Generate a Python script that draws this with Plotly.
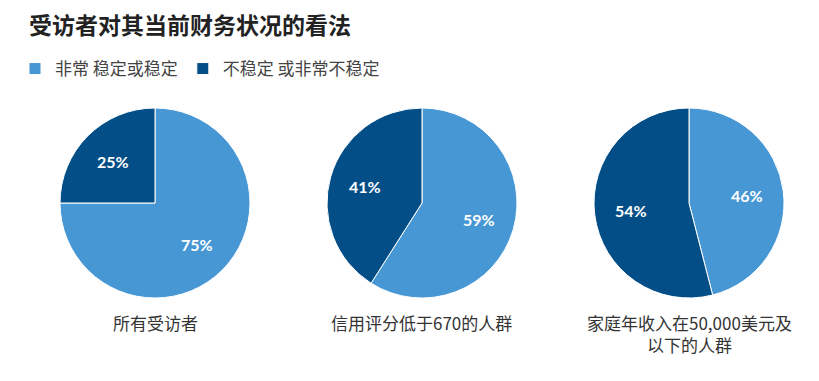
import math
import plotly.graph_objects as go

title = "受访者对其当前财务状况的看法"
categories = ["非常 稳定或稳定", "不稳定 或非常不稳定"]
groups = ["所有受访者", "信用评分低于670的人群", "家庭年收入在50,000美元及<br>以下的人群"]
stable = [75, 59, 46]
unstable = [25, 41, 54]

colors = ["#4897D5", "#034E86"]
OFF = 8  # default page body margin
W, H = 819 - OFF, 381 - OFF
centers_x = [155 - OFF, 422 - OFF, 689 - OFF]
cy = 203 - OFF
R = 95
LABEL_R = 0.62 * R

fig = go.Figure()
for i, g in enumerate(groups):
    cx = centers_x[i]
    vals = [stable[i], unstable[i]]
    fig.add_trace(go.Pie(
        labels=categories,
        values=vals,
        sort=False,
        direction="clockwise",
        rotation=0,
        marker=dict(colors=colors, line=dict(color="#ffffff", width=1)),
        textinfo="none",
        hoverinfo="label+percent",
        domain=dict(x=[(cx - R) / W, (cx + R) / W],
                    y=[1 - (cy + R) / H, 1 - (cy - R) / H]),
        showlegend=(i == 0),
    ))
    # percentage labels placed at each slice's mid-angle
    total = sum(vals)
    cum = 0
    for v in vals:
        mid = (cum + v / 2) / total * 2 * math.pi
        cum += v
        lx = cx + LABEL_R * math.sin(mid)
        ly = cy - LABEL_R * math.cos(mid)
        fig.add_annotation(
            x=lx / W, y=1 - ly / H, xref="paper", yref="paper",
            xanchor="center", yanchor="middle", text="<b>%d%%</b>" % v,
            showarrow=False,
            font=dict(size=16, color="#ffffff", family="Lato, Noto Sans CJK SC"),
        )
    fig.add_annotation(
        x=cx / W, y=1 - (308 - OFF) / H, xref="paper", yref="paper",
        xanchor="center", yanchor="top", text=g, showarrow=False,
        align="center",
        font=dict(size=17, color="#333333", family="Noto Sans CJK SC"),
    )

# chart title
fig.add_annotation(
    x=(27 - OFF) / W, y=1 - (24 - OFF) / H, xref="paper", yref="paper",
    xanchor="left", yanchor="middle", text="<b>" + title + "</b>",
    showarrow=False,
    font=dict(size=23, color="#222222", family="Noto Sans CJK SC"),
)

fig.update_layout(
    width=W, height=H,
    margin=dict(l=0, r=0, t=0, b=0),
    paper_bgcolor="#ffffff",
    plot_bgcolor="#ffffff",
    font=dict(family="Noto Sans CJK SC", color="#333333"),
    legend=dict(orientation="h", x=(15 - OFF) / W, xanchor="left",
                y=1 - (69 - OFF) / H, yanchor="middle",
                font=dict(size=17, color="#444444"),
                traceorder="normal", itemclick=False),
)

fig.write_html("out.html")
